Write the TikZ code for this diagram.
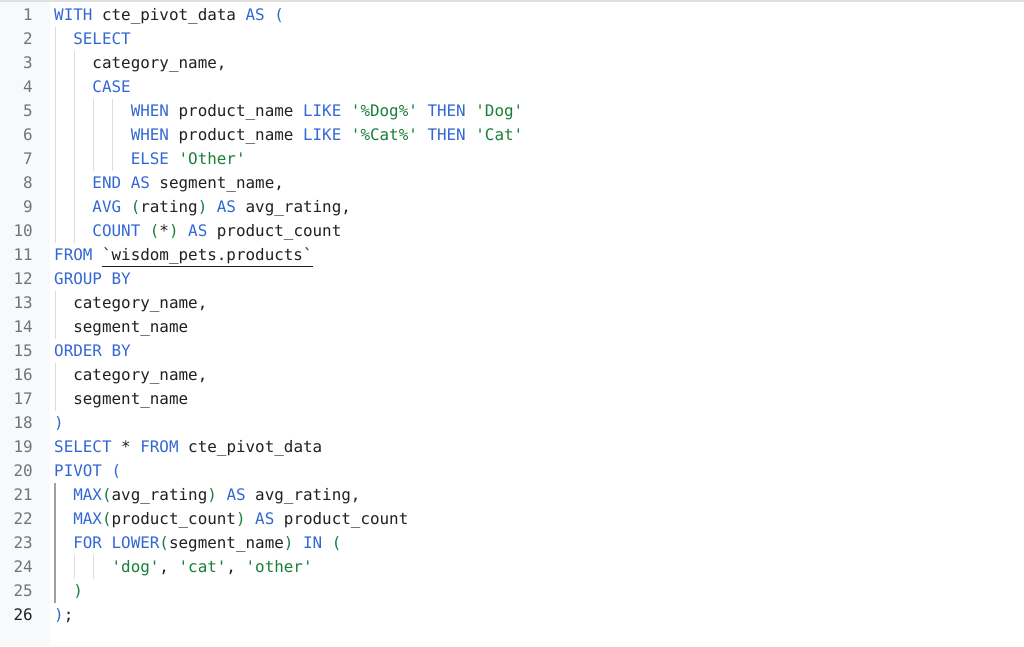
\documentclass[tikz,border=0pt]{standalone}
\usepackage{fontspec}
\setmonofont{DejaVu Sans Mono}
\definecolor{kwc}{HTML}{3367D6}
\definecolor{strc}{HTML}{188038}
\definecolor{txtc}{HTML}{202124}
\definecolor{numc}{HTML}{70757A}
\definecolor{numact}{HTML}{202124}
\definecolor{guidec}{HTML}{DADCE0}
\definecolor{guideact}{HTML}{9AA0A6}
\definecolor{gutterc}{HTML}{F8F9FA}
\definecolor{toplinec}{HTML}{E0E0E0}
\newcommand\kwd[1]{\textcolor{kwc}{#1}}
\newcommand\strg[1]{\textcolor{strc}{#1}}
\newcommand\codeline[4]{\node[codetext] (#1) at ({54+9.57*#2},{20.7+24*(#3-1)}) {#4};}
\begin{document}
\begin{tikzpicture}[x=1pt,y=-1pt,
  codetext/.style={anchor=base west, inner sep=0pt, font=\ttfamily\fontsize{15.9}{19}\selectfont, text=txtc},
  lnum/.style={anchor=base east, inner sep=0pt, font=\ttfamily\fontsize{15.9}{19}\selectfont, text=numc},
  guide/.style={draw=guidec, line width=1pt},
  guideon/.style={draw=guideact, line width=1.2pt}]
\useasboundingbox (0,0) rectangle (1024,646);
\fill[white] (0,0) rectangle (1024,646);
\fill[gutterc] (0,0) rectangle (50,646);
\fill[toplinec] (0,0) rectangle (1024,1.5);
% indent guides
\draw[guide] (55,27) -- (55,243);
\draw[guide] (74.2,51) -- (74.2,243);
\draw[guide] (93.4,99) -- (93.4,171);
\draw[guide] (112.6,99) -- (112.6,171);
\draw[guide] (55,291) -- (55,339);
\draw[guide] (55,363) -- (55,411);
\draw[guideon] (55,483) -- (55,603);
\draw[guide] (74.2,555) -- (74.2,579);
\draw[guide] (93.4,555) -- (93.4,579);
% line numbers
\foreach \i in {1,...,25} \node[lnum] (n\i) at (33,{20.7+24*(\i-1)}) {\i};
\node[lnum, text=numact] (n26) at (33,{20.7+24*25}) {26};
% code
\codeline{l1}{0}{1}{\kwd{WITH} cte\_pivot\_data \kwd{AS} \kwd{(}}
\codeline{l2}{2}{2}{\kwd{SELECT}}
\codeline{l3}{4}{3}{category\_name,}
\codeline{l4}{4}{4}{\kwd{CASE}}
\codeline{l5}{8}{5}{\kwd{WHEN} product\_name \kwd{LIKE} \strg{'\%Dog\%'} \kwd{THEN} \strg{'Dog'}}
\codeline{l6}{8}{6}{\kwd{WHEN} product\_name \kwd{LIKE} \strg{'\%Cat\%'} \kwd{THEN} \strg{'Cat'}}
\codeline{l7}{8}{7}{\kwd{ELSE} \strg{'Other'}}
\codeline{l8}{4}{8}{\kwd{END} \kwd{AS} segment\_name,}
\codeline{l9}{4}{9}{\kwd{AVG} \strg{(}rating\strg{)} \kwd{AS} avg\_rating,}
\codeline{l10}{4}{10}{\kwd{COUNT} \strg{(}*\strg{)} \kwd{AS} product\_count}
\codeline{l11}{0}{11}{\kwd{FROM}}
\codeline{tbl}{5}{11}{`wisdom\_pets.products`}
\codeline{l12}{0}{12}{\kwd{GROUP} \kwd{BY}}
\codeline{l13}{2}{13}{category\_name,}
\codeline{l14}{2}{14}{segment\_name}
\codeline{l15}{0}{15}{\kwd{ORDER} \kwd{BY}}
\codeline{l16}{2}{16}{category\_name,}
\codeline{l17}{2}{17}{segment\_name}
\codeline{l18}{0}{18}{\kwd{)}}
\codeline{l19}{0}{19}{\kwd{SELECT} * \kwd{FROM} cte\_pivot\_data}
\codeline{l20}{0}{20}{\kwd{PIVOT} \kwd{(}}
\codeline{l21}{2}{21}{\kwd{MAX}\strg{(}avg\_rating\strg{)} \kwd{AS} avg\_rating,}
\codeline{l22}{2}{22}{\kwd{MAX}\strg{(}product\_count\strg{)} \kwd{AS} product\_count}
\codeline{l23}{2}{23}{\kwd{FOR} \kwd{LOWER}\strg{(}segment\_name\strg{)} \kwd{IN} \strg{(}}
\codeline{l24}{6}{24}{\strg{'dog'}, \strg{'cat'}, \strg{'other'}}
\codeline{l25}{2}{25}{\strg{)}}
\codeline{l26}{0}{26}{\kwd{)};}
% underline of table name
\draw[txtc, line width=1.3pt] ([yshift=-6pt]tbl.base west) -- ([yshift=-6pt]tbl.base east);
\end{tikzpicture}
\end{document}
